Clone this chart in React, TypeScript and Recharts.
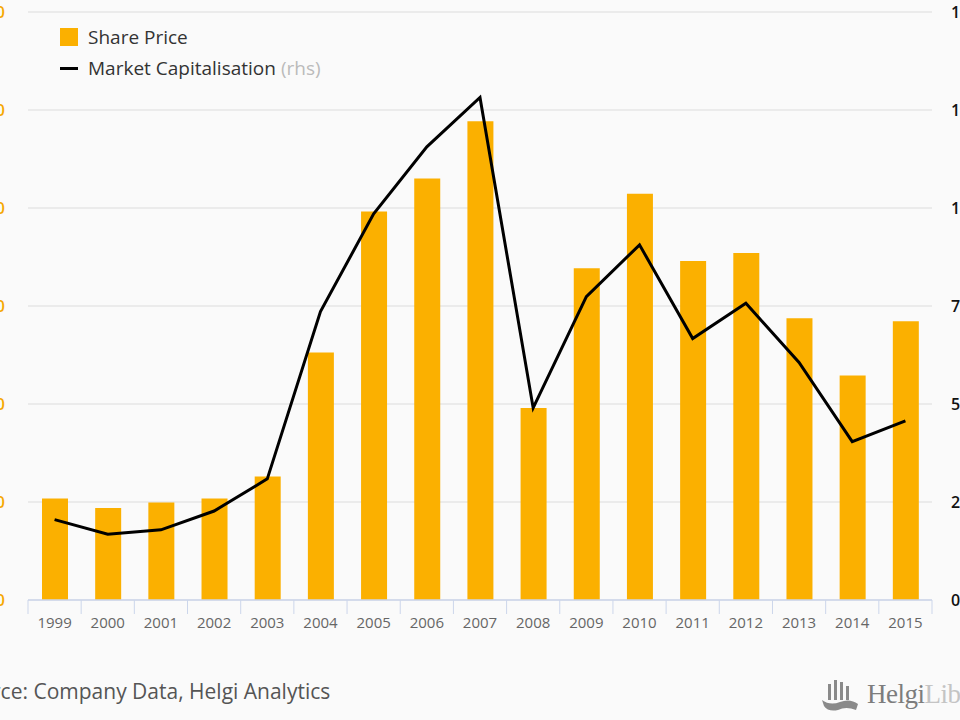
import React from 'react';
import { ComposedChart, Bar, Line, XAxis, YAxis, CartesianGrid } from 'recharts';

const years = ['1999', '2000', '2001', '2002', '2003', '2004', '2005', '2006', '2007', '2008', '2009', '2010', '2011', '2012', '2013', '2014', '2015'];
const sharePrice = [20.7, 18.8, 19.9, 20.7, 25.2, 50.5, 79.3, 86.0, 97.7, 39.2, 67.7, 82.9, 69.2, 70.8, 57.5, 45.8, 56.9];
const marketCap = [20.5, 16.8, 17.9, 22.7, 30.9, 73.6, 98.5, 115.6, 128.2, 49.0, 77.4, 90.6, 66.7, 75.7, 60.6, 40.4, 45.7];
const leftTicks = [0, 20, 40, 60, 80, 100, 120];
const rightTicks = [0, 25, 50, 75, 100, 125, 150];
const barName = 'Share Price';
const lineName = 'Market Capitalisation';
const rhsNote = '(rhs)';
const sourceText = 'Source: Company Data, Helgi Analytics';
const logoMain = 'Helgi';
const logoRest = 'Library';

const data = years.map((y, i) => ({ year: y, price: sharePrice[i], cap: marketCap[i] }));

const BAR_COLOR = '#fbb000';
const AXIS_COLOR = '#ccd6eb';
const FONT = '"Open Sans", "Noto Sans", sans-serif';

const XTick = (props: any) => {
  const { x, y, payload, index, width, visibleTicksCount } = props;
  const band = width / visibleTicksCount;
  const left = x - band / 2;
  const right = x + band / 2;
  return (
    <g>
      <line x1={left} y1={y} x2={left} y2={y + 14} stroke={AXIS_COLOR} strokeWidth={1} />
      {index === visibleTicksCount - 1 && (
        <line x1={right} y1={y} x2={right} y2={y + 14} stroke={AXIS_COLOR} strokeWidth={1} />
      )}
      <text x={x} y={y + 28} textAnchor="middle" fill="#666" fontSize={15} fontFamily={FONT}>
        {payload.value}
      </text>
    </g>
  );
};

export default function App() {
  return (
    <div
      style={{
        position: 'fixed',
        left: 0,
        top: 0,
        width: 960,
        height: 720,
        overflow: 'hidden',
        background: '#fafafa',
        fontFamily: FONT,
      }}
    >
      <div style={{ position: 'absolute', left: -60, top: 0 }}>
        <ComposedChart width={1080} height={720} data={data} margin={{ top: 12, right: 0, bottom: 0, left: 0 }}>
          <CartesianGrid vertical={false} stroke="#e6e6e6" strokeWidth={1.5} yAxisId="left" />
          <XAxis
            dataKey="year"
            height={120}
            axisLine={{ stroke: AXIS_COLOR, strokeWidth: 1.5 }}
            tickLine={false}
            tickSize={0}
            tickMargin={0}
            interval={0}
            tick={<XTick />}
          />
          <YAxis
            yAxisId="left"
            orientation="left"
            width={88}
            domain={[0, 120]}
            ticks={leftTicks}
            axisLine={false}
            tickLine={false}
            tickSize={0}
            tickMargin={23}
            tick={{ fill: '#f5a800', fontSize: 16, fontFamily: FONT, fontWeight: 600 }}
          />
          <YAxis
            yAxisId="right"
            orientation="right"
            width={88}
            domain={[0, 150]}
            ticks={rightTicks}
            axisLine={false}
            tickLine={false}
            tickSize={0}
            tickMargin={19}
            tick={{ fill: '#111', fontSize: 16, fontFamily: FONT, fontWeight: 600, textAnchor: 'start' }}
          />
          <Bar yAxisId="left" dataKey="price" name={barName} fill={BAR_COLOR} barSize={26} isAnimationActive={false} />
          <Line
            yAxisId="right"
            dataKey="cap"
            name={lineName}
            type="linear"
            stroke="#000"
            strokeWidth={3}
            dot={false}
            activeDot={false}
            isAnimationActive={false}
          />
        </ComposedChart>
      </div>

      <div style={{ position: 'absolute', left: 60, top: 26, fontSize: 19, color: '#333', lineHeight: '22px' }}>
        <div style={{ display: 'flex', alignItems: 'center', height: 22 }}>
          <span style={{ display: 'inline-block', width: 18, height: 18, background: BAR_COLOR, marginRight: 10 }} />
          <span>{barName}</span>
        </div>
        <div style={{ display: 'flex', alignItems: 'center', height: 22, marginTop: 9 }}>
          <span style={{ display: 'inline-block', width: 18, height: 3, background: '#000', marginRight: 10 }} />
          <span>{lineName}</span>
          <span style={{ color: '#bbb', marginLeft: 5 }}>{rhsNote}</span>
        </div>
      </div>

      <div style={{ position: 'absolute', left: -45, top: 677, fontSize: 21, color: '#555', whiteSpace: 'nowrap' }}>
        {sourceText}
      </div>

      <div style={{ position: 'absolute', left: 820, top: 674, display: 'flex', alignItems: 'center', whiteSpace: 'nowrap' }}>
        <svg width={40} height={40} viewBox="0 0 40 40">
          <g fill="#8a8a8a">
            <rect x={8} y={10} width={3} height={16} />
            <rect x={14} y={6} width={3} height={20} />
            <rect x={20} y={8} width={3} height={18} />
            <rect x={26} y={12} width={3} height={14} />
            <path d="M2 26 Q10 32 20 28 Q30 24 38 30 L36 36 Q26 32 18 36 Q8 38 4 32 Z" />
          </g>
        </svg>
        <span style={{ fontFamily: '"Liberation Serif", "DejaVu Serif", serif', fontSize: 27, marginLeft: 7, letterSpacing: -0.5 }}>
          <span style={{ color: '#7d7d7d' }}>{logoMain}</span>
          <span style={{ color: '#c4c4c4' }}>{logoRest}</span>
        </span>
      </div>
    </div>
  );
}
